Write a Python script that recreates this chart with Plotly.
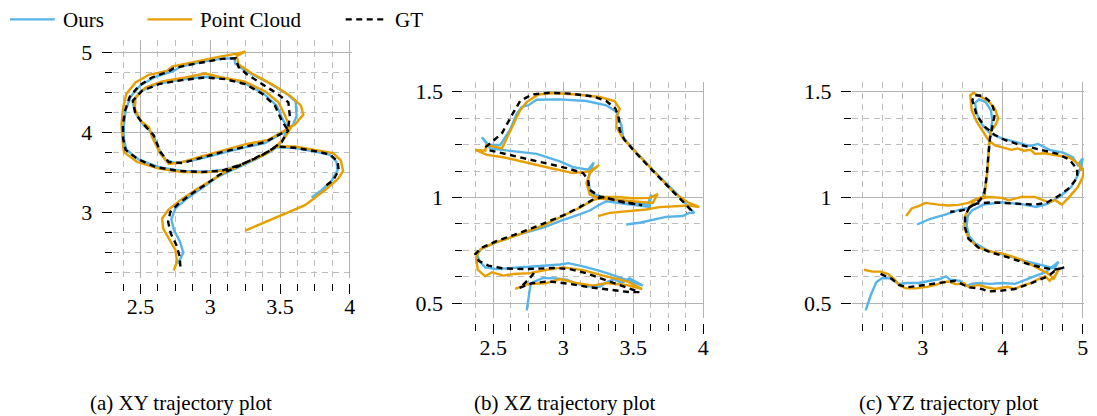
import plotly.graph_objects as go

# ---------------- data ----------------
# (a) XY trajectory
gt_xy_x = [2.786, 2.781, 2.757, 2.717, 2.698, 2.714, 2.774, 2.869, 2.976, 3.071, 3.179, 3.298, 3.417, 3.512, 3.560,
           3.393, 3.250, 3.083, 2.940, 2.798, 2.702, 2.643, 2.595, 2.524, 2.464, 2.445, 2.512, 2.631, 2.798, 2.964,
           3.107, 3.250, 3.369, 3.464, 3.512, 3.555, 3.571, 3.560, 3.476, 3.369, 3.262, 3.202, 3.183, 3.083, 2.964,
           2.845, 2.738, 2.702, 2.583, 2.488, 2.421, 2.388, 2.374, 2.376, 2.393, 2.476, 2.607, 2.774, 2.940, 3.083,
           3.226, 3.369, 3.474, 3.607, 3.750, 3.857, 3.912, 3.921, 3.881, 3.833]
gt_xy_y = [2.324, 2.448, 2.593, 2.739, 2.884, 3.008, 3.112, 3.237, 3.361, 3.477, 3.560, 3.660, 3.763, 3.880, 4.033,
           3.880, 3.826, 3.755, 3.685, 3.618, 3.631, 3.755, 3.963, 4.100, 4.232, 4.398, 4.523, 4.606, 4.656, 4.689,
           4.668, 4.606, 4.490, 4.336, 4.149, 4.033, 4.191, 4.378, 4.490, 4.614, 4.730, 4.822, 4.929, 4.921, 4.888,
           4.846, 4.805, 4.763, 4.689, 4.585, 4.440, 4.266, 4.087, 3.921, 3.784, 3.672, 3.568, 3.519, 3.506, 3.523,
           3.602, 3.714, 3.826, 3.809, 3.768, 3.726, 3.643, 3.527, 3.402, 3.340]

ours_xy_x = [2.769, 2.807, 2.783, 2.740, 2.721, 2.750, 2.833, 2.952, 3.060, 3.179, 3.321, 3.440, 3.512, 3.548,
             3.393, 3.226, 3.060, 2.893, 2.750, 2.679, 2.631, 2.588, 2.512, 2.460, 2.445, 2.500, 2.631, 2.798,
             2.964, 3.107, 3.250, 3.381, 3.476, 3.524, 3.560, 3.595, 3.619, 3.612, 3.536, 3.393, 3.250, 3.179,
             3.174, 3.083, 2.940, 2.786, 2.738, 2.607, 2.500, 2.429, 2.393, 2.381, 2.381, 2.398, 2.488, 2.631,
             2.798, 2.964, 3.107, 3.250, 3.393, 3.476, 3.607, 3.750, 3.857, 3.905, 3.912, 3.869, 3.798, 3.726]
ours_xy_y = [2.357, 2.498, 2.635, 2.780, 2.913, 3.050, 3.174, 3.320, 3.452, 3.548, 3.660, 3.768, 3.880, 4.025,
             3.867, 3.805, 3.734, 3.660, 3.618, 3.660, 3.797, 3.983, 4.116, 4.253, 4.378, 4.515, 4.614, 4.664,
             4.697, 4.680, 4.614, 4.490, 4.336, 4.149, 4.046, 4.100, 4.212, 4.390, 4.502, 4.647, 4.772, 4.863,
             4.929, 4.925, 4.884, 4.822, 4.772, 4.697, 4.593, 4.448, 4.274, 4.087, 3.921, 3.784, 3.660, 3.568,
             3.519, 3.510, 3.535, 3.618, 3.726, 3.817, 3.805, 3.763, 3.722, 3.631, 3.527, 3.394, 3.278, 3.187]

pc_xy_x = [2.738, 2.762, 2.750, 2.702, 2.662, 2.655, 2.698, 2.786, 2.898, 3.000, 3.095, 3.214, 3.345, 3.464, 3.536,
           3.583, 3.417, 3.250, 3.083, 2.917, 2.774, 2.702, 2.643, 2.583, 2.560, 2.500, 2.460, 2.464, 2.536, 2.655,
           2.821, 2.964, 3.083, 3.250, 3.393, 3.488, 3.536, 3.571, 3.607, 3.667, 3.650, 3.571, 3.440, 3.298, 3.202,
           3.190, 3.250, 3.190, 3.060, 2.893, 2.726, 2.690, 2.560, 2.464, 2.398, 2.374, 2.364, 2.369, 2.381, 2.476,
           2.631, 2.798, 2.964, 3.107, 3.250, 3.393, 3.476, 3.607, 3.762, 3.881, 3.936, 3.952, 3.917, 3.821, 3.679,
           3.488, 3.250]
pc_xy_y = [2.274, 2.386, 2.531, 2.676, 2.801, 2.925, 3.029, 3.154, 3.286, 3.394, 3.494, 3.589, 3.693, 3.809, 3.942,
           4.075, 3.909, 3.851, 3.776, 3.693, 3.618, 3.610, 3.734, 3.942, 4.066, 4.149, 4.295, 4.440, 4.564, 4.639,
           4.689, 4.739, 4.689, 4.635, 4.515, 4.378, 4.212, 4.066, 4.100, 4.224, 4.336, 4.461, 4.606, 4.739, 4.855,
           4.959, 5.012, 4.988, 4.946, 4.888, 4.826, 4.772, 4.722, 4.627, 4.481, 4.295, 4.108, 3.942, 3.755, 3.631,
           3.548, 3.506, 3.502, 3.527, 3.618, 3.726, 3.826, 3.826, 3.784, 3.743, 3.651, 3.519, 3.423, 3.278, 3.091,
           2.946, 2.772]

# (b) XZ trajectory
gt_xz_x = [2.791, 2.751, 2.687, 2.775, 2.893, 3.047, 3.190, 3.332, 3.474, 3.545, 3.450, 3.308, 3.166, 3.047, 2.929,
           2.739, 2.573, 2.467, 2.396, 2.372, 2.419, 2.526, 2.692, 2.858, 3.000, 3.118, 3.213, 3.284, 3.403, 3.498,
           3.564, 3.420, 3.260, 3.185, 3.178, 3.142, 3.024, 2.858, 2.621, 2.460, 2.450, 2.491, 2.562, 2.633, 2.692,
           2.775, 2.905, 3.047, 3.213, 3.308, 3.374, 3.398, 3.403, 3.438, 3.521, 3.616, 3.711, 3.806, 3.877, 3.912,
           3.877]
gt_xz_z = [0.642, 0.610, 0.572, 0.594, 0.603, 0.591, 0.575, 0.564, 0.552, 0.552, 0.575, 0.610, 0.641, 0.661, 0.666,
           0.661, 0.664, 0.677, 0.700, 0.732, 0.763, 0.794, 0.833, 0.876, 0.915, 0.954, 0.990, 1.002, 0.982, 0.971,
           0.963, 0.978, 1.005, 1.037, 1.084, 1.115, 1.139, 1.165, 1.201, 1.225, 1.240, 1.264, 1.303, 1.389, 1.456,
           1.487, 1.495, 1.491, 1.478, 1.456, 1.420, 1.373, 1.318, 1.272, 1.209, 1.143, 1.076, 1.013, 0.966, 0.940,
           0.930]

ours_xz_x = [2.739, 2.751, 2.768, 2.858, 2.953, 3.024, 3.083, 3.166, 3.261, 3.320, 3.367, 3.415, 3.474, 3.569,
             3.474, 3.355, 3.261, 3.142, 3.036, 2.976, 2.858, 2.668, 2.526, 2.443, 2.403, 2.384, 2.419, 2.514,
             2.692, 2.858, 2.976, 3.095, 3.190, 3.249, 3.308, 3.427, 3.545, 3.616, 3.628, 3.604, 3.403, 3.261,
             3.194, 3.178, 3.194, 3.218, 3.178, 3.071, 2.976, 2.810, 2.621, 2.479, 2.419, 2.467, 2.550, 2.573,
             2.621, 2.668, 2.704, 2.751, 2.810, 2.976, 3.166, 3.308, 3.379, 3.415, 3.427, 3.462, 3.545, 3.640,
             3.735, 3.818, 3.900, 3.936, 3.900, 3.853, 3.735, 3.640, 3.545, 3.450]
ours_xz_z = [0.466, 0.528, 0.595, 0.619, 0.617, 0.611, 0.595, 0.580, 0.577, 0.602, 0.614, 0.595, 0.617, 0.583,
             0.606, 0.633, 0.653, 0.674, 0.689, 0.683, 0.677, 0.669, 0.661, 0.669, 0.696, 0.732, 0.758, 0.786,
             0.826, 0.857, 0.888, 0.915, 0.938, 0.962, 0.982, 0.971, 0.962, 0.955, 1.013, 0.966, 0.987, 1.005,
             1.024, 1.084, 1.123, 1.165, 1.131, 1.143, 1.170, 1.206, 1.220, 1.232, 1.284, 1.248, 1.248, 1.272,
             1.322, 1.397, 1.428, 1.436, 1.462, 1.464, 1.456, 1.436, 1.405, 1.342, 1.287, 1.256, 1.196, 1.131,
             1.068, 1.013, 0.951, 0.927, 0.927, 0.912, 0.908, 0.893, 0.880, 0.872]

pc_xz_x = [2.656, 2.739, 2.882, 2.976, 3.095, 3.213, 3.308, 3.450, 3.564, 3.462, 3.284, 3.142, 3.000, 2.882, 2.763,
           2.645, 2.573, 2.491, 2.443, 2.389, 2.377, 2.408, 2.514, 2.692, 2.858, 3.000, 3.118, 3.213, 3.284, 3.379,
           3.498, 3.616, 3.675, 3.640, 3.545, 3.403, 3.261, 3.190, 3.166, 3.190, 3.256, 3.190, 3.071, 2.905, 2.739,
           2.573, 2.455, 2.372, 2.443, 2.450, 2.562, 2.585, 2.640, 2.692, 2.739, 2.822, 2.929, 3.095, 3.261, 3.367,
           3.403, 3.384, 3.379, 3.427, 3.509, 3.604, 3.699, 3.794, 3.889, 3.972, 3.900, 3.782, 3.687, 3.592, 3.450,
           3.332, 3.249]
pc_xz_z = [0.567, 0.589, 0.595, 0.614, 0.595, 0.583, 0.595, 0.586, 0.567, 0.602, 0.630, 0.656, 0.669, 0.658, 0.642,
           0.638, 0.630, 0.646, 0.627, 0.658, 0.716, 0.755, 0.786, 0.826, 0.868, 0.912, 0.951, 0.987, 1.002, 1.002,
           0.996, 0.998, 1.016, 0.974, 0.979, 0.987, 0.995, 1.013, 1.068, 1.115, 1.154, 1.123, 1.115, 1.139, 1.165,
           1.190, 1.201, 1.225, 1.221, 1.248, 1.232, 1.264, 1.342, 1.412, 1.451, 1.487, 1.494, 1.487, 1.475, 1.456,
           1.420, 1.381, 1.334, 1.279, 1.221, 1.154, 1.084, 1.021, 0.977, 0.955, 0.962, 0.959, 0.954, 0.943, 0.935,
           0.927, 0.912]

# (c) YZ trajectory
gt_yz_y = [2.474, 2.619, 2.702, 2.805, 3.033, 3.240, 3.406, 3.571, 3.737, 3.820, 3.986, 4.151, 4.358, 4.565, 4.669,
           4.772, 4.648, 4.482, 4.317, 4.068, 3.861, 3.696, 3.571, 3.530, 3.530, 3.580, 3.675, 3.861, 4.151, 4.400,
           4.545, 4.689, 4.834, 4.930, 4.930, 4.834, 4.689, 4.524, 4.358, 4.193, 4.027, 3.903, 3.778, 3.675, 3.621,
           3.646, 3.758, 3.861, 3.903, 3.870, 3.841, 3.820, 3.799, 3.770, 3.716, 3.621, 3.538, 3.447, 3.344]
gt_yz_z = [0.638, 0.614, 0.586, 0.575, 0.586, 0.599, 0.606, 0.575, 0.567, 0.555, 0.559, 0.567, 0.595, 0.627, 0.658,
           0.669, 0.658, 0.669, 0.685, 0.716, 0.739, 0.763, 0.805, 0.857, 0.912, 0.951, 0.971, 0.977, 0.971, 0.966,
           0.974, 1.005, 1.045, 1.092, 1.134, 1.178, 1.206, 1.221, 1.236, 1.251, 1.272, 1.295, 1.334, 1.389, 1.459,
           1.484, 1.480, 1.447, 1.397, 1.342, 1.279, 1.193, 1.099, 1.021, 0.987, 0.962, 0.943, 0.935, 0.932]

ours_yz_y = [2.288, 2.350, 2.420, 2.495, 2.598, 2.702, 2.805, 2.950, 3.095, 3.219, 3.290, 3.344, 3.468, 3.538,
             3.621, 3.716, 3.841, 4.006, 4.151, 4.255, 4.358, 4.462, 4.545, 4.627, 4.698, 4.648, 4.482, 4.275,
             4.027, 3.820, 3.654, 3.580, 3.551, 3.563, 3.621, 3.758, 3.986, 4.234, 4.420, 4.565, 4.731, 4.855,
             4.930, 4.979, 5.000, 4.938, 4.876, 4.752, 4.586, 4.441, 4.337, 4.172, 3.986, 3.841, 3.737, 3.675,
             3.654, 3.704, 3.787, 3.853, 3.870, 3.845, 3.824, 3.803, 3.766, 3.704, 3.580, 3.447, 3.282, 3.095,
             2.930]
ours_yz_z = [0.466, 0.536, 0.599, 0.619, 0.617, 0.591, 0.595, 0.595, 0.606, 0.614, 0.627, 0.611, 0.605, 0.580,
             0.592, 0.595, 0.591, 0.595, 0.591, 0.606, 0.622, 0.638, 0.649, 0.674, 0.696, 0.664, 0.680, 0.700,
             0.728, 0.747, 0.783, 0.818, 0.865, 0.912, 0.940, 0.966, 0.977, 0.968, 0.955, 0.971, 1.009, 1.049,
             1.099, 1.149, 1.185, 1.154, 1.190, 1.212, 1.225, 1.253, 1.243, 1.262, 1.279, 1.303, 1.347, 1.397,
             1.447, 1.464, 1.451, 1.412, 1.365, 1.303, 1.209, 1.099, 1.013, 0.979, 0.951, 0.940, 0.919, 0.899,
             0.872]

pc_yz_y = [2.267, 2.371, 2.474, 2.569, 2.652, 2.710, 2.793, 2.909, 3.054, 3.166, 3.248, 3.331, 3.414, 3.509, 3.580,
           3.696, 3.799, 3.903, 4.060, 4.151, 4.242, 4.350, 4.449, 4.532, 4.586, 4.648, 4.698, 4.640, 4.557, 4.400,
           4.234, 4.027, 3.861, 3.696, 3.580, 3.522, 3.530, 3.580, 3.654, 3.820, 3.986, 4.077, 4.234, 4.400, 4.491,
           4.574, 4.656, 4.739, 4.822, 4.938, 5.000, 5.021, 4.979, 4.946, 4.834, 4.689, 4.524, 4.400, 4.350, 4.267,
           4.184, 4.110, 4.027, 3.903, 3.820, 3.758, 3.675, 3.613, 3.596, 3.634, 3.716, 3.820, 3.903, 3.944, 3.903,
           3.849, 3.824, 3.812, 3.787, 3.770, 3.675, 3.571, 3.447, 3.323, 3.199, 3.033, 2.950, 2.867, 2.793]
pc_yz_z = [0.658, 0.649, 0.649, 0.638, 0.611, 0.583, 0.570, 0.570, 0.577, 0.586, 0.599, 0.602, 0.589, 0.595, 0.575,
           0.586, 0.575, 0.567, 0.577, 0.567, 0.583, 0.595, 0.614, 0.627, 0.606, 0.627, 0.658, 0.617, 0.642, 0.674,
           0.705, 0.732, 0.743, 0.763, 0.802, 0.854, 0.912, 0.951, 0.987, 1.002, 0.998, 0.987, 1.002, 1.002, 0.987,
           0.977, 0.987, 0.966, 0.998, 1.049, 1.096, 1.138, 1.131, 1.159, 1.189, 1.200, 1.209, 1.206, 1.225, 1.221,
           1.232, 1.225, 1.232, 1.246, 1.272, 1.311, 1.358, 1.412, 1.483, 1.495, 1.478, 1.456, 1.420, 1.373, 1.337,
           1.311, 1.232, 1.138, 1.052, 1.005, 0.993, 0.974, 0.965, 0.962, 0.966, 0.974, 0.959, 0.949, 0.912]

series_names = ["Ours", "Point Cloud", "GT"]
captions = ["(a) XY trajectory plot", "(b) XZ trajectory plot", "(c) YZ trajectory plot"]

xy_xticks = [2.5, 3, 3.5, 4]
xy_yticks = [3, 4, 5]
xz_xticks = [2.5, 3, 3.5, 4]
xz_yticks = [0.5, 1, 1.5]
yz_xticks = [3, 4, 5]
yz_yticks = [0.5, 1, 1.5]

# ---------------- styling ----------------
W, H = 1097, 416
BLUE = "#56B4E9"
ORANGE = "#E69F00"
FONT = "Liberation Serif"
LW = 2.4

panels = [
    dict(series=[(ours_xy_x, ours_xy_y), (pc_xy_x, pc_xy_y), (gt_xy_x, gt_xy_y)],
         xdom=(113, 353), ydom=(37, 277), xr=[2.3, 4.014], yr=[2.180, 5.161],
         xt=xy_xticks, yt=xy_yticks, xminor=0.125, yminor=0.25, xpos=282),
    dict(series=[(ours_xz_x, ours_xz_z), (pc_xz_x, pc_xz_z), (gt_xz_x, gt_xz_z)],
         xdom=(465, 707), ydom=(80, 317), xr=[2.286, 4.009], yr=[0.431, 1.544],
         xt=xz_xticks, yt=xz_yticks, xminor=0.125, yminor=0.125, xpos=322.5),
    dict(series=[(ours_yz_y, ours_yz_z), (pc_yz_y, pc_yz_z), (gt_yz_y, gt_yz_z)],
         xdom=(855, 1088), ydom=(80, 317), xr=[2.116, 5.016], yr=[0.431, 1.544],
         xt=yz_xticks, yt=yz_yticks, xminor=0.25, yminor=0.125, xpos=322.5),
]

styles = [
    dict(color=BLUE, width=LW),
    dict(color=ORANGE, width=LW),
    dict(color="black", width=LW, dash="6px,4.5px"),
]

def fmt(v):
    return ("%g" % v)

fig = go.Figure()
layout = dict(
    width=W, height=H, margin=dict(l=0, r=0, t=0, b=0),
    paper_bgcolor="white", plot_bgcolor="white",
    font=dict(family=FONT, size=21, color="black"),
    showlegend=False,
)

for i, p in enumerate(panels):
    sfx = "" if i == 0 else str(i + 1)
    for j, (xs, ys) in enumerate(p["series"]):
        fig.add_trace(go.Scatter(
            x=xs, y=ys, mode="lines", name=series_names[j],
            line=styles[j], showlegend=False,
            xaxis="x" + sfx, yaxis="y" + sfx, hoverinfo="skip"))
    minor_grid = dict(showgrid=True, gridcolor="#bdbdbd", griddash="6px,5px", gridwidth=1,
                      ticks="outside", ticklen=7, tickcolor="black", tickwidth=1)
    layout["xaxis" + sfx] = dict(
        domain=[p["xdom"][0] / W, p["xdom"][1] / W], range=p["xr"],
        anchor="free", position=1 - p["xpos"] / H,
        tickmode="array", tickvals=p["xt"], ticktext=[fmt(v) for v in p["xt"]],
        ticks="outside", ticklen=10, tickcolor="black", tickwidth=1,
        showline=False, zeroline=False, showgrid=True, gridcolor="#b3b3b3", gridwidth=1,
        tickfont=dict(family=FONT, size=22), ticklabelstandoff=-6,
        minor=dict(tick0=0, dtick=p["xminor"], **minor_grid),
    )
    layout["yaxis" + sfx] = dict(
        domain=[1 - p["ydom"][1] / H, 1 - p["ydom"][0] / H], range=p["yr"],
        anchor="free", position=(p["xdom"][0] - 1) / W,
        tickmode="array", tickvals=p["yt"], ticktext=[fmt(v) for v in p["yt"]],
        ticks="outside", ticklen=10, tickcolor="black", tickwidth=1,
        showline=False, zeroline=False, showgrid=True, gridcolor="#b3b3b3", gridwidth=1,
        tickfont=dict(family=FONT, size=22), ticklabelstandoff=5,
        minor=dict(tick0=0, dtick=p["yminor"], **minor_grid),
    )

cap_x = [181.5, 567.5, 952]
annotations = [
    dict(text=c, x=cx / W, y=1 - 403 / H, xref="paper", yref="paper",
         xanchor="center", yanchor="middle", showarrow=False,
         font=dict(family=FONT, size=21, color="black"))
    for c, cx in zip(captions, cap_x)
]

# legend drawn as line samples + labels at the top-left
leg_line = [(10, 55), (148, 193), (347, 387)]
leg_text_x = [61, 199, 394]
leg_y = 1 - 16.5 / H
shapes = []
for j in range(3):
    st = styles[j]
    shapes.append(dict(type="line", xref="paper", yref="paper",
                       x0=leg_line[j][0] / W, x1=leg_line[j][1] / W, y0=leg_y, y1=leg_y,
                       line=dict(color=st["color"], width=st["width"], dash=st.get("dash", "solid"))))
    annotations.append(dict(text=series_names[j], x=leg_text_x[j] / W, y=1 - 17 / H,
                            xref="paper", yref="paper", xanchor="left", yanchor="middle",
                            showarrow=False, font=dict(family=FONT, size=21, color="black")))

layout["annotations"] = annotations
layout["shapes"] = shapes

fig.update_layout(**layout)
fig.write_html("out.html")
